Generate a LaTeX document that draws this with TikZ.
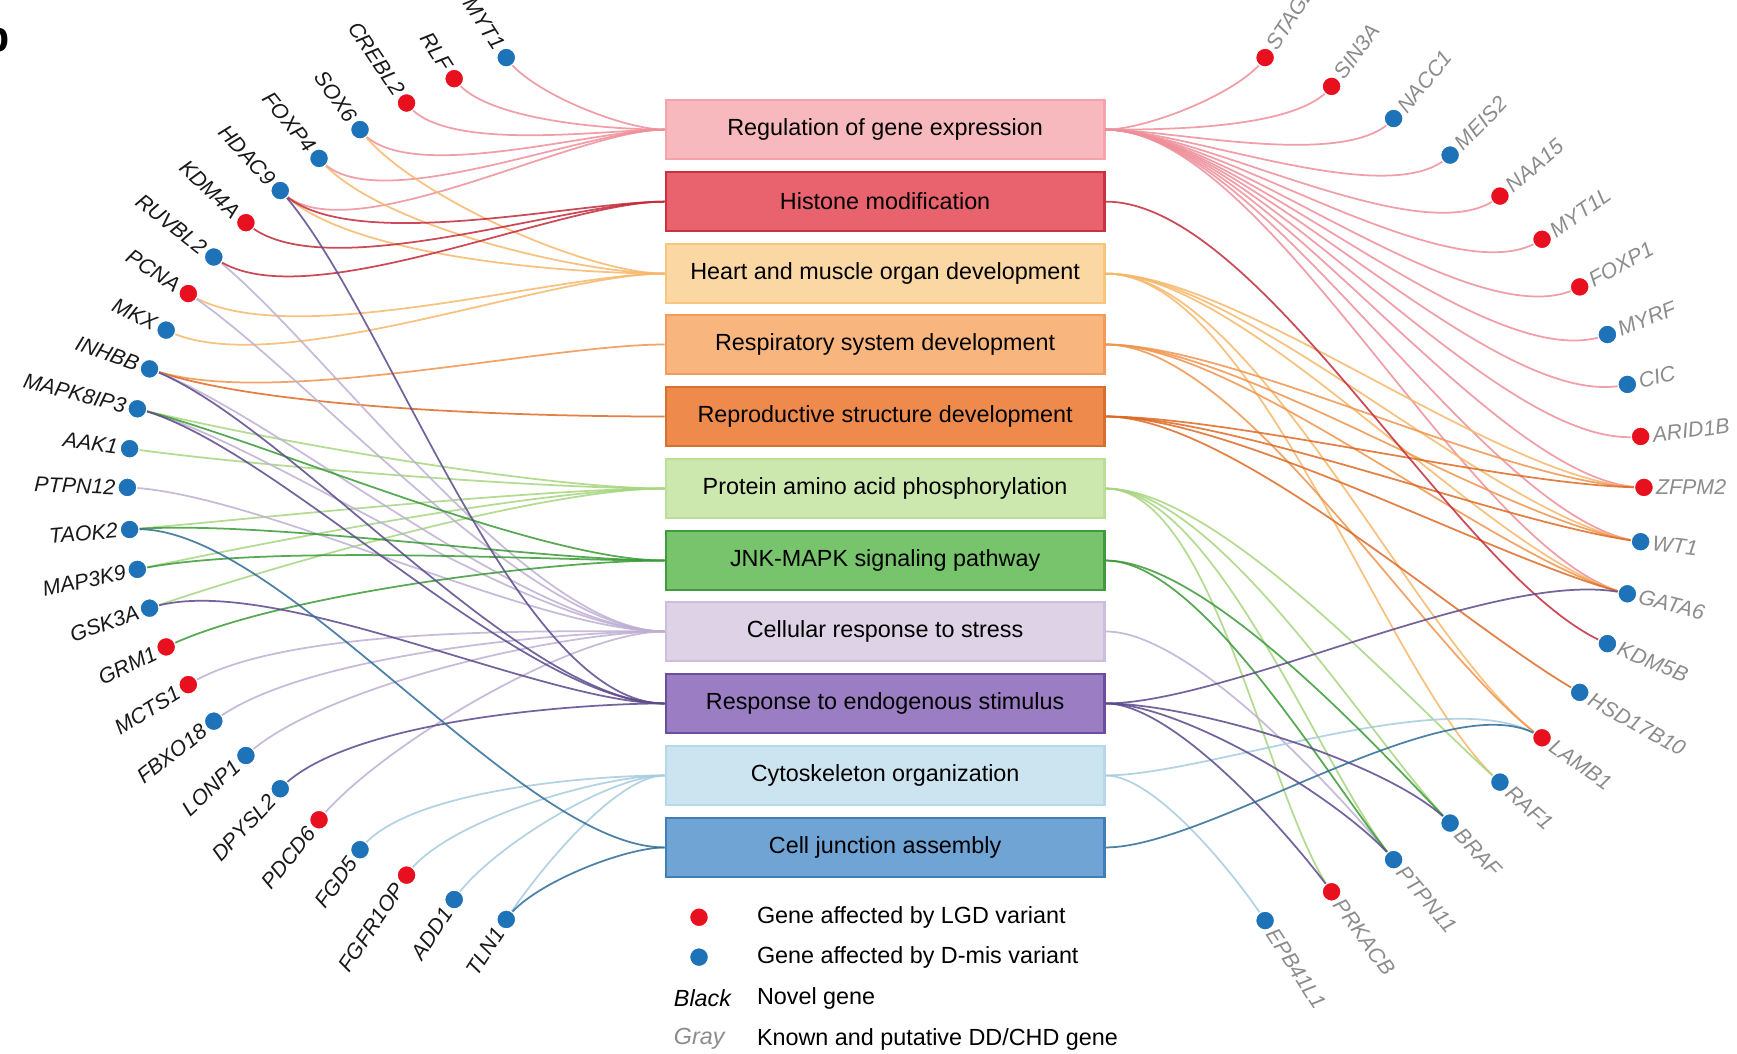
\documentclass[tikz,border=0pt]{standalone}
\usepackage{fontspec}
\setmainfont{Liberation Sans}
\definecolor{F1}{HTML}{F7B9BE}\definecolor{D1}{HTML}{F4A3AB}\definecolor{L1}{HTML}{EE8F9A}
\definecolor{F2}{HTML}{E9636E}\definecolor{D2}{HTML}{C8333F}\definecolor{L2}{HTML}{C42B3B}
\definecolor{F3}{HTML}{FBD7A3}\definecolor{D3}{HTML}{F8C47E}\definecolor{L3}{HTML}{F6B86A}
\definecolor{F4}{HTML}{F9B57E}\definecolor{D4}{HTML}{F29B5A}\definecolor{L4}{HTML}{F0954E}
\definecolor{F5}{HTML}{EE8A4C}\definecolor{D5}{HTML}{D96F2E}\definecolor{L5}{HTML}{DD6A25}
\definecolor{F6}{HTML}{CDE8AE}\definecolor{D6}{HTML}{BADF95}\definecolor{L6}{HTML}{A8D57F}
\definecolor{F7}{HTML}{77C46C}\definecolor{D7}{HTML}{3F9B3B}\definecolor{L7}{HTML}{3A9A37}
\definecolor{F8}{HTML}{DED2E7}\definecolor{D8}{HTML}{CDBFDC}\definecolor{L8}{HTML}{BFB0D3}
\definecolor{F9}{HTML}{9A7DC3}\definecolor{D9}{HTML}{6E4D9E}\definecolor{L9}{HTML}{5C4A8D}
\definecolor{F10}{HTML}{CCE4F0}\definecolor{D10}{HTML}{B5D8EA}\definecolor{L10}{HTML}{A6CCDF}
\definecolor{F11}{HTML}{6FA4D4}\definecolor{D11}{HTML}{3F7EB7}\definecolor{L11}{HTML}{2F6C98}
\definecolor{gr}{HTML}{E8101E}\definecolor{gb}{HTML}{1E72B8}
\newcommand\lkL[3]{\edef\tmpa{\csname ang#2\endcsname}\draw[#3] (#1.west) to[out=180,in=\tmpa,looseness=0.6] (#2);}
\newcommand\lkR[3]{\edef\tmpa{\csname ang#2\endcsname}\draw[#3] (#1.east) to[out=0,in=\tmpa,looseness=0.6] (#2);}
\begin{document}
\begin{tikzpicture}[x=0.02cm,y=0.02cm,
  box/.style={draw, line width=1.2pt, minimum width=7.92cm, minimum height=1.06cm, inner sep=0pt, font=\fontsize{12}{14}\selectfont, text=black},
  lk/.style={line width=0.9pt, opacity=0.85},
  c1/.style={lk,draw=L1}, c2/.style={lk,draw=L2}, c3/.style={lk,draw=L3}, c4/.style={lk,draw=L4},
  c5/.style={lk,draw=L5}, c6/.style={lk,draw=L6}, c7/.style={lk,draw=L7}, c8/.style={lk,draw=L8},
  c9/.style={lk,draw=L9}, c10/.style={lk,draw=L10}, c11/.style={lk,draw=L11},
  lblL/.style={anchor=east, inner xsep=6pt, inner ysep=0pt, font=\fontsize{11}{13}\selectfont\itshape, text=black!90},
  lblR/.style={anchor=west, inner xsep=6pt, inner ysep=0pt, font=\fontsize{11}{13}\selectfont\itshape, text=black!45},
  dot/.style={draw=white, line width=0.6pt},
  leg/.style={anchor=west, font=\fontsize{12}{14}\selectfont, inner sep=0pt}]
\useasboundingbox (0,0) rectangle (1568,951);
\fill[white] (0,0) rectangle (1568,951);
\node[anchor=east, font=\fontsize{22}{24}\selectfont\bfseries, inner sep=0pt] (panel) at (9,{951-33}) {b};
% gene coordinates
\foreach \n/\x/\y/\r/\c in {MYT1/457/52/-57/gb, RLF/410/71/-57/gr, CREBL2/367/93/-56/gr, SOX6/325/117/-54/gb, FOXP4/288/143/-51/gb, HDAC9/253/172/-47/gb, KDM4A/222/201/-43/gr, RUVBL2/193/232/-38/gb, PCNA/170/265/-33/gr, MKX/150/298/-27/gb, INHBB/135/333/-20/gb, MAPK8IP3/124/369/-14/gb, AAK1/117/405/-8/gb, PTPN12/115/440/-2/gb, TAOK2/117/478/5/gb, MAP3K9/124/514/12/gb, GSK3A/135/549/19/gb, GRM1/150/584/26/gr, MCTS1/170/618/32/gr, FBXO18/193/651/38/gb, LONP1/222/682/43/gb, DPYSL2/253/712/47/gb, PDCD6/288/740/51/gr, FGD5/325/767/54/gb, FGFR1OP/367/790/56/gr, ADD1/410/812/57/gb, TLN1/457/830/57/gb}{
  \coordinate (\n) at (\x,{951-\y});
  \expandafter\xdef\csname ang\n\endcsname{\r}
}
\foreach \n/\x/\y/\r/\c in {STAG2/1142/52/57/gr, SIN3A/1202/78/54/gr, NACC1/1258/107/50/gb, MEIS2/1309/140/46/gb, NAA15/1354/177/41/gr, MYT1L/1392/216/35/gr, FOXP1/1426/259/29/gr, MYRF/1451/302/22/gb, CIC/1469/347/14/gb, ARID1B/1481/394/7/gr, ZFPM2/1484/440/0/gr, WT1/1481/489/-7/gb, GATA6/1469/536/-14/gb, KDM5B/1451/581/-22/gb, HSD17B10/1426/625/-29/gb, LAMB1/1392/666/-35/gr, RAF1/1354/706/-41/gb, BRAF/1309/743/-46/gb, PTPN11/1258/776/-50/gb, PRKACB/1202/805/-54/gr, EPB41L1/1142/831/-57/gb}{
  \coordinate (\n) at (\x,{951-\y});
  \pgfmathsetmacro\tmpr{\r+180}
  \expandafter\xdef\csname ang\n\endcsname{\tmpr}
}
% boxes
\node[box, fill=F1, draw=D1] (b1) at (799,{951-117}) {Regulation of gene expression};
\node[box, fill=F2, draw=D2] (b2) at (799,{951-182}) {Histone modification};
\node[box, fill=F3, draw=D3] (b3) at (799,{951-247}) {Heart and muscle organ development};
\node[box, fill=F4, draw=D4] (b4) at (799,{951-311}) {Respiratory system development};
\node[box, fill=F5, draw=D5] (b5) at (799,{951-376}) {Reproductive structure development};
\node[box, fill=F6, draw=D6] (b6) at (799,{951-441}) {Protein amino acid phosphorylation};
\node[box, fill=F7, draw=D7] (b7) at (799,{951-506}) {JNK-MAPK signaling pathway};
\node[box, fill=F8, draw=D8] (b8) at (799,{951-570}) {Cellular response to stress};
\node[box, fill=F9, draw=D9] (b9) at (799,{951-635}) {Response to endogenous stimulus};
\node[box, fill=F10, draw=D10] (b10) at (799,{951-700}) {Cytoskeleton organization};
\node[box, fill=F11, draw=D11] (b11) at (799,{951-765}) {Cell junction assembly};
% left links
\foreach \g in {MYT1,RLF,CREBL2,SOX6,FOXP4,HDAC9} {\lkL{b1}{\g}{c1}}
\foreach \g in {SOX6,FOXP4,HDAC9,PCNA,MKX} {\lkL{b3}{\g}{c3}}
\foreach \g in {INHBB} {\lkL{b4}{\g}{c4}}
\foreach \g in {INHBB} {\lkL{b5}{\g}{c5}}
\foreach \g in {MAPK8IP3,AAK1,TAOK2,MAP3K9,GSK3A} {\lkL{b6}{\g}{c6}}
\foreach \g in {RUVBL2,PCNA,INHBB,MAPK8IP3,PTPN12,MCTS1,FBXO18,LONP1,PDCD6} {\lkL{b8}{\g}{c8}}
\foreach \g in {FGD5,FGFR1OP,ADD1,TLN1} {\lkL{b10}{\g}{c10}}
\foreach \g in {MAPK8IP3,TAOK2,MAP3K9,GRM1} {\lkL{b7}{\g}{c7}}
\foreach \g in {HDAC9,KDM4A,RUVBL2} {\lkL{b2}{\g}{c2}}
\foreach \g in {HDAC9,INHBB,MAPK8IP3,GSK3A,DPYSL2} {\lkL{b9}{\g}{c9}}
\foreach \g in {TAOK2,TLN1} {\lkL{b11}{\g}{c11}}
% right links
\foreach \g in {STAG2,SIN3A,NACC1,MEIS2,NAA15,MYT1L,FOXP1,MYRF,CIC,ARID1B,ZFPM2,WT1,GATA6} {\lkR{b1}{\g}{c1}}
\foreach \g in {ZFPM2,WT1,GATA6,LAMB1,RAF1} {\lkR{b3}{\g}{c3}}
\foreach \g in {ZFPM2,WT1,GATA6,LAMB1} {\lkR{b4}{\g}{c4}}
\foreach \g in {ZFPM2,WT1,GATA6,HSD17B10} {\lkR{b5}{\g}{c5}}
\foreach \g in {RAF1,BRAF,PTPN11,PRKACB} {\lkR{b6}{\g}{c6}}
\foreach \g in {PTPN11} {\lkR{b8}{\g}{c8}}
\foreach \g in {LAMB1,EPB41L1} {\lkR{b10}{\g}{c10}}
\foreach \g in {KDM5B} {\lkR{b2}{\g}{c2}}
\foreach \g in {BRAF,PTPN11} {\lkR{b7}{\g}{c7}}
\foreach \g in {GATA6,BRAF,PTPN11,PRKACB} {\lkR{b9}{\g}{c9}}
\foreach \g in {LAMB1} {\lkR{b11}{\g}{c11}}
% dots and labels
\foreach \n/\r/\c in {MYT1/-57/gb, RLF/-57/gr, CREBL2/-56/gr, SOX6/-54/gb, FOXP4/-51/gb, HDAC9/-47/gb, KDM4A/-43/gr, RUVBL2/-38/gb, PCNA/-33/gr, MKX/-27/gb, INHBB/-20/gb, MAPK8IP3/-14/gb, AAK1/-8/gb, PTPN12/-2/gb, TAOK2/5/gb, MAP3K9/12/gb, GSK3A/19/gb, GRM1/26/gr, MCTS1/32/gr, FBXO18/38/gb, LONP1/43/gb, DPYSL2/47/gb, PDCD6/51/gr, FGD5/54/gb, FGFR1OP/56/gr, ADD1/57/gb, TLN1/57/gb}{
  \fill[dot, fill=\c] (\n) circle (8.5);
  \node[lblL, rotate=\r] (t\n) at (\n) {\n};
}
\foreach \n/\r/\c in {STAG2/57/gr, SIN3A/54/gr, NACC1/50/gb, MEIS2/46/gb, NAA15/41/gr, MYT1L/35/gr, FOXP1/29/gr, MYRF/22/gb, CIC/14/gb, ARID1B/7/gr, ZFPM2/0/gr, WT1/-7/gb, GATA6/-14/gb, KDM5B/-22/gb, HSD17B10/-29/gb, LAMB1/-35/gr, RAF1/-41/gb, BRAF/-46/gb, PTPN11/-50/gb, PRKACB/-54/gr, EPB41L1/-57/gb}{
  \fill[dot, fill=\c] (\n) circle (8.5);
  \node[lblR, rotate=\r] (t\n) at (\n) {\n};
}
% legend
\fill[dot, fill=gr] (631,{951-828}) circle (8.5);
\fill[dot, fill=gb] (631,{951-864}) circle (8.5);
\node[leg] (l1) at (683,{951-828}) {Gene affected by LGD variant};
\node[leg] (l2) at (683,{951-864}) {Gene affected by D-mis variant};
\node[leg, font=\fontsize{12}{14}\selectfont\itshape] (l3k) at (608,{951-901}) {Black};
\node[leg] (l3) at (683,{951-901}) {Novel gene};
\node[leg, font=\fontsize{12}{14}\selectfont\itshape, text=black!45] (l4k) at (608,{951-938}) {Gray};
\node[leg] (l4) at (683,{951-938}) {Known and putative DD/CHD gene};
\end{tikzpicture}
\end{document}
